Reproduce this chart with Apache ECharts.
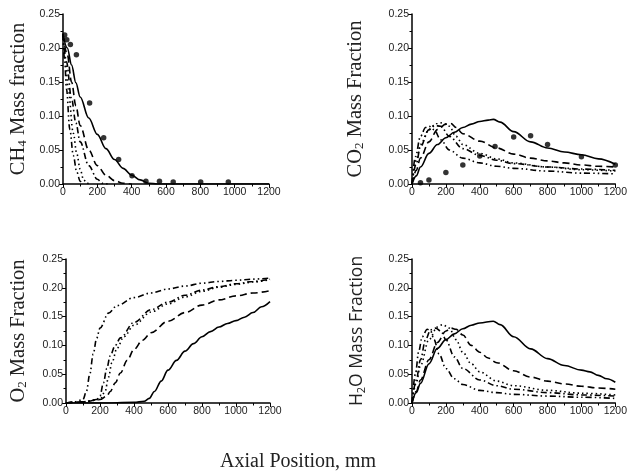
<!DOCTYPE html>
<html><head><meta charset="utf-8">
<script src="https://cdn.jsdelivr.net/npm/echarts@6/dist/echarts.min.js"></script>
<style>html,body{margin:0;padding:0;background:#fff}#c{width:630px;height:472px}</style>
</head><body><div id="c"></div>
<script>
// ---- data ----
var xTicks = [0, 200, 400, 600, 800, 1000, 1200];
var yTicks = [0, 0.05, 0.10, 0.15, 0.20, 0.25];

// CH4
var ch4Solid = [[0,0.22],[25,0.2],[50,0.175],[75,0.149],[100,0.128],[150,0.097],[200,0.073],[250,0.052],[300,0.036],[350,0.023],[400,0.013],[450,0.006],[500,0.001],[550,0],[1200,0]];
var ch4Dash = [[0,0.22],[25,0.19],[50,0.15],[75,0.115],[100,0.086],[150,0.05],[200,0.027],[250,0.013],[300,0.005],[350,0.001],[400,0]];
var ch4DashDot = [[0,0.22],[20,0.18],[50,0.125],[75,0.09],[100,0.062],[150,0.027],[200,0.007],[230,0.001],[260,0]];
var ch4Dot = [[0,0.22],[15,0.18],[30,0.14],[60,0.075],[80,0.045],[100,0.022],[120,0.006],[140,0.001],[160,0]];
var ch4DashDotDot = [[0,0.22],[10,0.18],[20,0.14],[40,0.08],[60,0.042],[80,0.018],[100,0.004],[115,0]];
var ch4Pts = [[10,0.219],[22,0.212],[43,0.205],[78,0.19],[155,0.119],[237,0.068],[324,0.036],[402,0.012],[483,0.004],[562,0.004],[642,0.003],[802,0.003],[963,0.003]];

// CO2
var co2Solid = [[0,0],[25,0.012],[50,0.025],[100,0.045],[150,0.058],[200,0.068],[250,0.076],[300,0.083],[350,0.088],[400,0.092],[450,0.094],[480,0.095],[520,0.091],[600,0.077],[700,0.062],[800,0.053],[900,0.047],[1000,0.043],[1100,0.037],[1200,0.029]];
var co2Dash = [[0,0],[25,0.02],[50,0.038],[100,0.062],[150,0.08],[200,0.088],[230,0.089],[260,0.083],[300,0.074],[400,0.063],[500,0.053],[600,0.044],[700,0.038],[800,0.034],[900,0.031],[1000,0.028],[1100,0.026],[1200,0.025]];
var co2DashDot = [[0,0],[25,0.03],[50,0.055],[100,0.08],[130,0.086],[170,0.085],[220,0.07],[300,0.052],[400,0.042],[500,0.035],[600,0.03],[800,0.025],[1000,0.022],[1200,0.02]];
var co2Dot = [[0,0],[25,0.035],[50,0.058],[100,0.08],[150,0.089],[180,0.09],[220,0.085],[260,0.07],[300,0.058],[400,0.045],[500,0.037],[600,0.031],[800,0.025],[1000,0.021],[1200,0.019]];
var co2DashDotDot = [[0,0],[20,0.04],[50,0.07],[80,0.083],[100,0.085],[130,0.08],[170,0.065],[220,0.05],[300,0.038],[400,0.031],[500,0.026],[600,0.023],[800,0.019],[1000,0.016],[1200,0.015]];
var co2Pts = [[50,0.002],[100,0.006],[200,0.017],[300,0.028],[400,0.041],[490,0.055],[600,0.069],[700,0.071],[800,0.058],[1000,0.04],[1200,0.028]];

// O2
var o2Solid = [[0,0],[200,0],[400,0.001],[460,0.003],[490,0.008],[520,0.02],[560,0.038],[600,0.057],[650,0.074],[700,0.09],[750,0.103],[800,0.115],[850,0.124],[900,0.132],[950,0.138],[1000,0.143],[1050,0.149],[1100,0.157],[1150,0.167],[1200,0.176]];
var o2Dash = [[0,0],[100,0.002],[200,0.006],[240,0.012],[260,0.02],[290,0.035],[320,0.052],[360,0.074],[400,0.093],[450,0.109],[500,0.122],[600,0.142],[700,0.157],[800,0.17],[900,0.179],[1000,0.186],[1100,0.191],[1200,0.195]];
var o2DashDot = [[0,0],[100,0.002],[180,0.006],[200,0.012],[220,0.035],[240,0.06],[260,0.082],[290,0.1],[320,0.113],[400,0.14],[500,0.162],[600,0.175],[700,0.187],[800,0.196],[900,0.202],[1000,0.207],[1100,0.211],[1200,0.215]];
var o2Dot = [[0,0],[100,0.002],[200,0.006],[230,0.02],[250,0.045],[270,0.07],[300,0.095],[340,0.115],[400,0.135],[500,0.158],[600,0.172],[700,0.184],[800,0.194],[900,0.201],[1000,0.206],[1100,0.21],[1200,0.214]];
var o2DashDotDot = [[0,0],[50,0.002],[100,0.006],[120,0.02],[140,0.05],[160,0.085],[180,0.112],[200,0.13],[250,0.156],[300,0.169],[400,0.183],[500,0.191],[600,0.198],[700,0.203],[800,0.208],[900,0.211],[1000,0.213],[1100,0.215],[1200,0.217]];

// H2O
var h2oSolid = [[0,0],[25,0.018],[50,0.034],[100,0.068],[150,0.095],[200,0.11],[250,0.12],[300,0.129],[350,0.135],[400,0.139],[480,0.142],[520,0.136],[600,0.115],[700,0.094],[800,0.077],[900,0.065],[1000,0.057],[1050,0.054],[1100,0.048],[1150,0.042],[1200,0.036]];
var h2oDash = [[0,0],[25,0.02],[50,0.04],[100,0.075],[150,0.105],[200,0.125],[230,0.13],[260,0.128],[300,0.118],[350,0.1],[400,0.088],[450,0.078],[500,0.07],[600,0.056],[700,0.045],[800,0.038],[900,0.033],[1000,0.029],[1100,0.026],[1200,0.024]];
var h2oDashDot = [[0,0],[25,0.04],[50,0.075],[80,0.11],[110,0.127],[140,0.13],[170,0.125],[200,0.11],[250,0.08],[300,0.06],[400,0.04],[500,0.03],[600,0.024],[800,0.018],[1000,0.014],[1200,0.012]];
var h2oDot = [[0,0],[25,0.035],[50,0.065],[100,0.11],[150,0.132],[180,0.136],[220,0.13],[260,0.11],[300,0.088],[350,0.068],[400,0.054],[500,0.038],[600,0.03],[800,0.022],[1000,0.017],[1200,0.014]];
var h2oDashDotDot = [[0,0],[20,0.05],[40,0.09],[60,0.115],[90,0.128],[110,0.125],[130,0.11],[160,0.085],[200,0.06],[250,0.042],[300,0.032],[400,0.022],[500,0.018],[600,0.015],[800,0.012],[1000,0.01],[1200,0.008]];

var yNames = ['{n|CH}{s|4}{n| Mass fraction}', '{n|CO}{s|2}{n| Mass Fraction}', '{n|O}{s|2}{n| Mass Fraction}', '{n|H}{s|2}{n|O Mass Fraction}'];
var xName = 'Axial Position, mm';

// ---- chart ----
var DASH = [7,4], DASHDOT = [6,3,1.5,3], DOT = [1.5,3], DASHDOTDOT = [6,3,1.5,3,1.5,3];
var grids = [
  {left:63, top:14, width:206, height:170},
  {left:412, top:14, width:204, height:170},
  {left:66, top:259, width:204, height:144},
  {left:412, top:259, width:204, height:144}
];
var nameGaps = [34, 46, 37, 45];
var axLine = {color:'#000', width:1.5};
function xAx(i){
  return {type:'value', gridIndex:i, min:xTicks[0], max:xTicks[xTicks.length-1], interval:200,
    axisLine:{show:true, onZero:false, lineStyle:axLine},
    axisTick:{show:true, length:4, lineStyle:{color:'#000', width:1}},
    minorTick:{show:true, splitNumber:2, length:2.5, lineStyle:{color:'#000', width:1}},
    splitLine:{show:false},
    axisLabel:{fontFamily:'Liberation Sans', fontSize:10.5, color:'#222', margin:3, formatter:function(v){return String(v);}}
  };
}
function yAx(i, sans){
  var fam = sans ? 'Open Sans' : 'Liberation Serif';
  var fs = sans ? 17.5 : 20.5;
  return {type:'value', gridIndex:i, min:yTicks[0], max:yTicks[yTicks.length-1], interval:0.05,
    axisLine:{show:true, onZero:false, lineStyle:axLine},
    axisTick:{show:true, length:4, lineStyle:{color:'#000', width:1}},
    minorTick:{show:true, splitNumber:2, length:2.5, lineStyle:{color:'#000', width:1}},
    splitLine:{show:false},
    axisLabel:{fontFamily:'Liberation Sans', fontSize:10.5, color:'#222', margin:3, formatter:function(v){return v.toFixed(2);}},
    name: yNames[i], nameLocation:'middle', nameRotate:90, nameGap:nameGaps[i],
    nameTextStyle:{rich:{
      n:{fontFamily:fam, fontSize:fs, color:'#222'},
      s:{fontFamily:fam, fontSize:Math.round(fs*0.65), color:'#222', padding:[8,0,0,0]}
    }}
  };
}
function ln(i, data, dash){
  return {type:'line', xAxisIndex:i, yAxisIndex:i, data:data, showSymbol:false, smooth:0.35, smoothMonotone:'x',
    silent:true, lineStyle:{color:'#000', width:1.6, type:dash}};
}
function pts(i, data){
  return {type:'scatter', xAxisIndex:i, yAxisIndex:i, data:data, symbol:'circle', symbolSize:5.5,
    itemStyle:{color:'#000'}, silent:true};
}
var series = [
  ln(0, ch4Solid, 'solid'), ln(0, ch4Dash, DASH), ln(0, ch4DashDot, DASHDOT), ln(0, ch4Dot, DOT), ln(0, ch4DashDotDot, DASHDOTDOT), pts(0, ch4Pts),
  ln(1, co2Solid, 'solid'), ln(1, co2Dash, DASH), ln(1, co2DashDot, DASHDOT), ln(1, co2Dot, DOT), ln(1, co2DashDotDot, DASHDOTDOT), pts(1, co2Pts),
  ln(2, o2Solid, 'solid'), ln(2, o2Dash, DASH), ln(2, o2DashDot, DASHDOT), ln(2, o2Dot, DOT), ln(2, o2DashDotDot, DASHDOTDOT),
  ln(3, h2oSolid, 'solid'), ln(3, h2oDash, DASH), ln(3, h2oDashDot, DASHDOT), ln(3, h2oDot, DOT), ln(3, h2oDashDotDot, DASHDOTDOT)
];
var chart = echarts.init(document.getElementById('c'), null, {renderer:'canvas'});
chart.setOption({
  animation:false,
  backgroundColor:'#fff',
  grid: grids,
  xAxis: [xAx(0), xAx(1), xAx(2), xAx(3)],
  yAxis: [yAx(0,false), yAx(1,false), yAx(2,false), yAx(3,true)],
  series: series,
  graphic:[{type:'text', left:220, top:452, style:{text:xName, font:'20px "Liberation Serif"', fill:'#222'}}]
});
</script></body></html>
